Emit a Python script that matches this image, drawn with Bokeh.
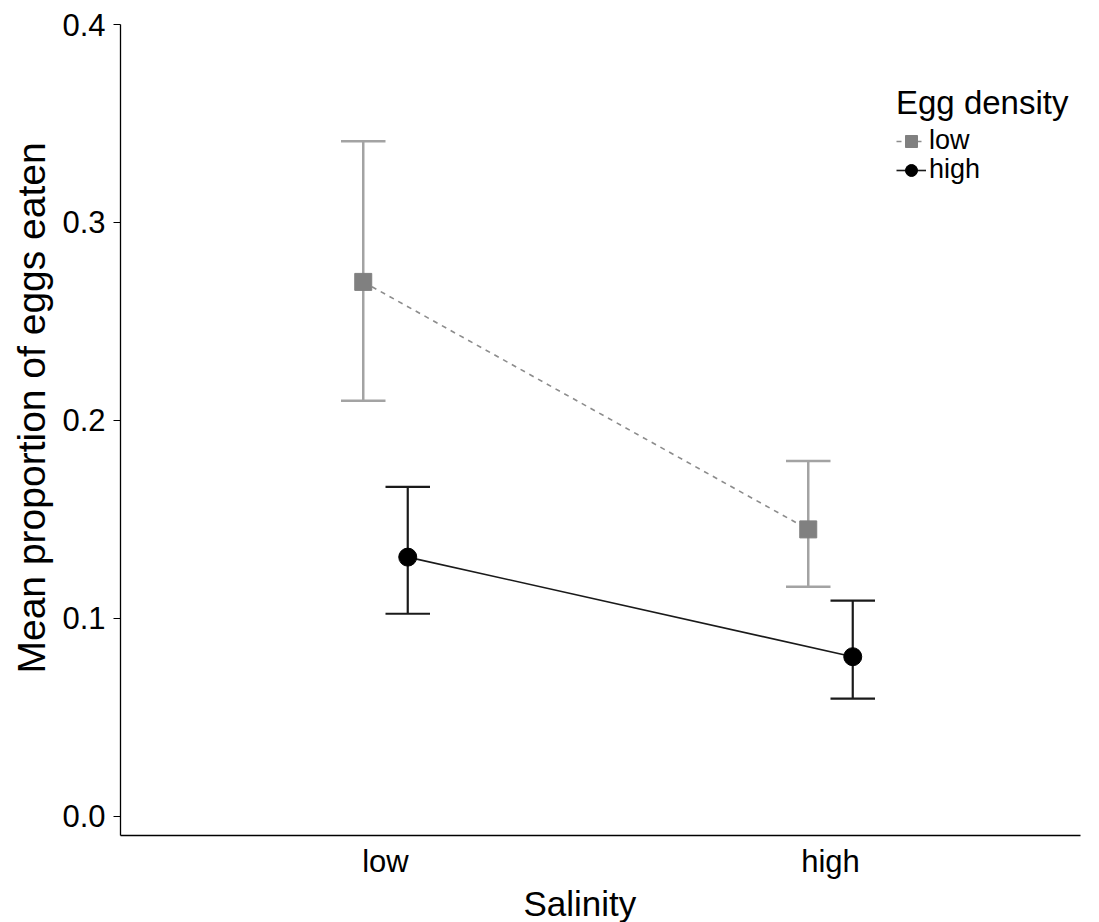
from bokeh.plotting import figure
from bokeh.models import Range1d, FixedTicker, Legend, LegendItem, ColumnDataSource, Title
from bokeh.embed import file_html
from bokeh.resources import INLINE

# ---- data ----
salinity = ["low", "high"]
salinity_pos = [1, 2]
dodge = 0.05
cap_half = 0.05

low_mean = [0.270, 0.145]
low_upper = [0.341, 0.1795]
low_lower = [0.210, 0.116]

high_mean = [0.131, 0.0807]
high_upper = [0.1665, 0.109]
high_lower = [0.1024, 0.0595]

y_ticks = [0.0, 0.1, 0.2, 0.3, 0.4]
y_tick_labels = ["0.0", "0.1", "0.2", "0.3", "0.4"]

FONT = "Liberation Sans"

X_START, X_AXIS_END, X_END = 0.4045, 2.5618, 2.6045

p = figure(width=1099, height=922, output_backend="svg", toolbar_location=None,
           x_range=Range1d(X_START, X_END), y_range=Range1d(-0.0096, 0.4),
           min_border_left=120, min_border_right=0, min_border_top=24,
           min_border_bottom=86)
p.outline_line_color = None
p.xgrid.visible = False
p.ygrid.visible = False
p.background_fill_color = "white"
p.border_fill_color = "white"


def make_src(mean, upper, lower, off):
    xs = [v + off for v in salinity_pos]
    return ColumnDataSource(dict(
        x=xs, y=mean, lo=lower, hi=upper,
        x0=[v - cap_half for v in xs], x1=[v + cap_half for v in xs]))


src_low = make_src(low_mean, low_upper, low_lower, -dodge)
src_high = make_src(high_mean, high_upper, high_lower, dodge)

# low egg density (grey, dashed)
l_line = p.line("x", "y", source=src_low, line_color="#8c8c8c", line_width=1.6,
                line_dash="5 5")
p.segment("x", "lo", "x", "hi", source=src_low, line_color="#a3a3a3", line_width=2.5)
p.segment("x0", "hi", "x1", "hi", source=src_low, line_color="#a3a3a3", line_width=2.5)
p.segment("x0", "lo", "x1", "lo", source=src_low, line_color="#a3a3a3", line_width=2.5)
l_pt = p.scatter("x", "y", source=src_low, marker="square", size=17,
                 fill_color="#808080", line_color="#808080")

# high egg density (black, solid)
h_line = p.line("x", "y", source=src_high, line_color="#1a1a1a", line_width=1.6)
p.segment("x", "lo", "x", "hi", source=src_high, line_color="#1a1a1a", line_width=2.2)
p.segment("x0", "hi", "x1", "hi", source=src_high, line_color="#1a1a1a", line_width=2.2)
p.segment("x0", "lo", "x1", "lo", source=src_high, line_color="#1a1a1a", line_width=2.2)
h_pt = p.scatter("x", "y", source=src_high, marker="circle", size=18,
                 fill_color="black", line_color="black")

# axes
p.xaxis.ticker = FixedTicker(ticks=salinity_pos)
p.xaxis.major_label_overrides = {k: v for k, v in zip(salinity_pos, salinity)}
p.xaxis.bounds = (X_START, X_AXIS_END)
p.xaxis.minor_tick_line_color = None
p.xaxis.major_tick_out = 0
p.xaxis.major_tick_in = 0
p.xaxis.major_label_standoff = 8

p.yaxis.ticker = FixedTicker(ticks=y_ticks)
p.yaxis.major_label_overrides = {k: v for k, v in zip(y_ticks, y_tick_labels)}
p.yaxis.minor_tick_line_color = None
p.yaxis.major_tick_out = 7
p.yaxis.major_tick_in = 0
p.yaxis.major_label_standoff = 8

for ax in (p.xaxis[0], p.yaxis[0]):
    ax.axis_line_color = "black"
    ax.axis_line_width = 1.3
    ax.major_tick_line_color = "black" if ax is p.yaxis[0] else None
    ax.major_label_text_font = FONT
    ax.major_label_text_font_size = "31px"
    ax.major_label_text_color = "black"

# axis titles as side-panel titles so they can sit off-centre like the original
x_title = Title(text="Salinity", align="left", offset=403, standoff=0,
                text_font=FONT, text_font_size="35px", text_font_style="normal",
                text_color="black")
p.add_layout(x_title, "below")

y_title = Title(text="Mean proportion of eggs eaten", align="left", offset=162,
                standoff=10, vertical_align="top", text_font=FONT,
                text_font_size="39px", text_font_style="normal", text_color="black")
p.add_layout(y_title, "left")


def style_legend(lg):
    lg.title_text_font = FONT
    lg.title_text_font_size = "33px"
    lg.title_text_font_style = "normal"
    lg.title_text_color = "black"
    lg.title_standoff = 3
    lg.label_text_font = FONT
    lg.label_text_font_size = "27px"
    lg.label_text_color = "black"
    lg.label_standoff = 3
    lg.glyph_width = 30
    lg.glyph_height = 30
    lg.label_height = 22
    lg.spacing = 0
    lg.padding = 0
    lg.margin = 0
    lg.border_line_color = None
    lg.background_fill_alpha = 0


legend_a = Legend(items=[LegendItem(label="low", renderers=[l_line, l_pt])],
                  location=(776, 679), title="Egg density")
legend_b = Legend(items=[LegendItem(label="high", renderers=[h_line, h_pt])],
                  location=(776, 650))
style_legend(legend_a)
style_legend(legend_b)
p.add_layout(legend_a)
p.add_layout(legend_b)

open("out.html", "w").write(file_html(p, INLINE))
